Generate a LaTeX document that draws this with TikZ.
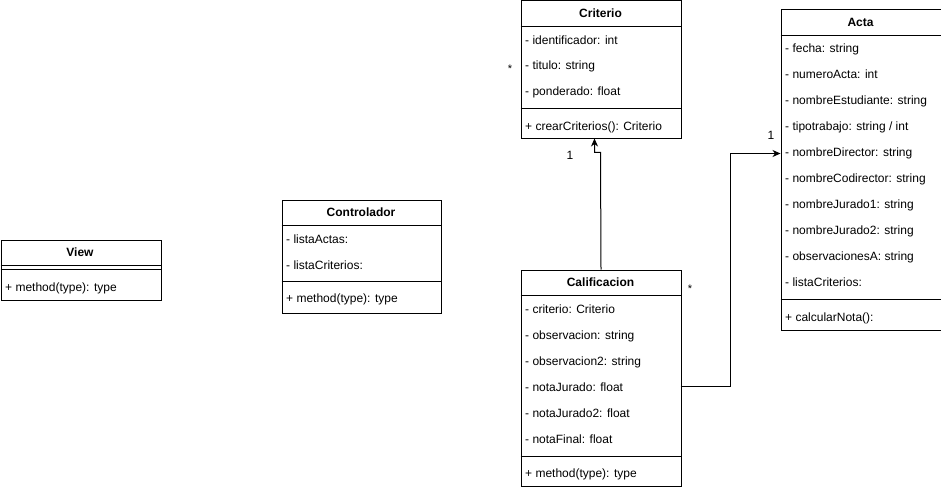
\documentclass[tikz,border=0pt]{standalone}
\usepackage{fontspec}
\setmainfont{Liberation Sans}
\usetikzlibrary{arrows.meta}
\begin{document}
\begin{tikzpicture}[x=1pt,y=-1pt,
  box/.style={draw,line width=1pt,anchor=north west,inner sep=0pt},
  hdr/.style={font=\fontsize{12}{14}\selectfont\bfseries,inner sep=0pt},
  attr/.style={font=\fontsize{12}{14}\selectfont,anchor=base west,inner sep=0pt,yshift=-4.5pt},
  lbl/.style={font=\fontsize{12}{14}\selectfont,inner sep=0pt},
  star/.style={font=\fontsize{11}{12}\selectfont,inner sep=0pt},
  sep/.style={line width=1pt},
  arr/.style={line width=1pt,-{Stealth[length=8pt,width=7pt,inset=2.5pt]}}]
\useasboundingbox (0,0) rectangle (941,489);
\fill[white] (0,0) rectangle (941,489);

% View
\node[box,minimum width=160,minimum height=60] (view) at (0.5,239.5) {};
\node[hdr] (viewT) at (80,252.5) {View};
\draw[sep] (0.5,265.5) -- (160.5,265.5);
\draw[sep] (0.5,269.5) -- (160.5,269.5);
\node[attr] (v1) at (5,287) {+ method(type): type};

% Controlador
\node[box,minimum width=159,minimum height=113] (ctrl) at (281.5,199.5) {};
\node[hdr] (ctrlT) at (361,212.5) {Controlador};
\draw[sep] (281.5,225.5) -- (440.5,225.5);
\node[attr] (k1) at (286,239) {- listaActas:};
\node[attr] (k2) at (286,265) {- listaCriterios:};
\draw[sep] (281.5,281.5) -- (440.5,281.5);
\node[attr] (k3) at (286,298) {+ method(type): type};

% Criterio
\node[box,minimum width=160,minimum height=138] (crit) at (520.5,0.5) {};
\node[hdr] (critT) at (600.5,13.5) {Criterio};
\draw[sep] (520.5,26.5) -- (680.5,26.5);
\node[attr] (c1) at (525,40) {- identificador: int};
\node[attr] (c2) at (525,65) {- titulo: string};
\node[attr] (c3) at (525,91) {- ponderado: float};
\draw[sep] (520.5,108.5) -- (680.5,108.5);
\node[attr] (c4) at (525,126) {+ crearCriterios(): Criterio};

% Acta
\node[box,minimum width=160,minimum height=320] (acta) at (780.5,9.5) {};
\node[hdr] (actaT) at (860.5,22.5) {Acta};
\draw[sep] (780.5,35.5) -- (940.5,35.5);
\node[attr] (a1) at (785,48) {- fecha: string};
\node[attr] (a2) at (785,74) {- numeroActa: int};
\node[attr] (a3) at (785,100) {- nombreEstudiante: string};
\node[attr] (a4) at (785,126) {- tipotrabajo: string / int};
\node[attr] (a5) at (785,152) {- nombreDirector: string};
\node[attr] (a6) at (785,178) {- nombreCodirector: string};
\node[attr] (a7) at (785,204) {- nombreJurado1: string};
\node[attr] (a8) at (785,230) {- nombreJurado2: string};
\node[attr] (a9) at (785,256) {- observacionesA: string};
\node[attr] (a10) at (785,282) {- listaCriterios:};
\draw[sep] (780.5,299.5) -- (940.5,299.5);
\node[attr] (a11) at (785,317) {+ calcularNota():};

% Calificacion
\node[box,minimum width=160,minimum height=216] (calif) at (520.5,269.5) {};
\node[hdr] (califT) at (600.5,282.5) {Calificacion};
\draw[sep] (520.5,295.5) -- (680.5,295.5);
\node[attr] (f1) at (525,309) {- criterio: Criterio};
\node[attr] (f2) at (525,335) {- observacion: string};
\node[attr] (f3) at (525,361) {- observacion2: string};
\node[attr] (f4) at (525,387) {- notaJurado: float};
\node[attr] (f5) at (525,413) {- notaJurado2: float};
\node[attr] (f6) at (525,439) {- notaFinal: float};
\draw[sep] (520.5,456.5) -- (680.5,456.5);
\node[attr] (f7) at (525,473) {+ method(type): type};

% connectors
\coordinate (j1) at (600.5,152.5);
\coordinate (j2) at (594.5,152.5);
\draw[arr] (calif.north) -- (j1) -- (j2) -- (594.5,138.5);
\coordinate (s2) at (680.5,386.5);
\coordinate (t2) at (730.5,386.5);
\coordinate (u2) at (730.5,153.5);
\draw[arr] (s2) -- (t2) -- (u2) -- (acta.west |- u2);

% multiplicities
\node[lbl] (m1) at (570,155) {1};
\node[star] (m2) at (510,69) {*};
\node[lbl] (m3) at (771,135) {1};
\node[star] (m4) at (690,289) {*};
\end{tikzpicture}
\end{document}
